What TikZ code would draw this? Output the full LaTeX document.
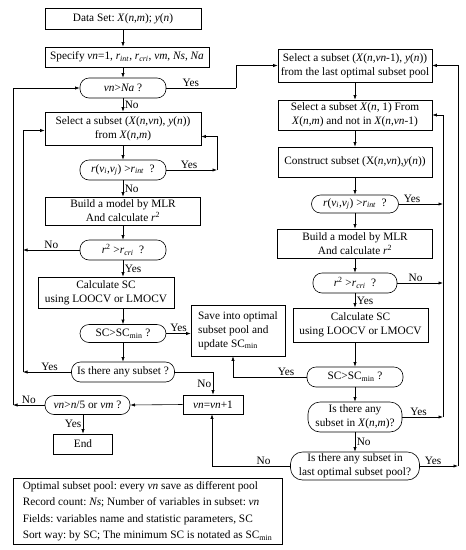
\documentclass[tikz,border=0pt]{standalone}
\usepackage{fontspec}
\setmainfont{Liberation Serif}
\usepackage{tikz}
\usetikzlibrary{arrows.meta,calc}
\frenchspacing
\newcommand{\flowfont}{\fontsize{11.3}{14}\selectfont}
\newcommand{\rInt}{\textit{r}\textsubscript{\textit{int}}}
\newcommand{\rCri}{\textit{r}\textsubscript{\textit{cri}}}
\newcommand{\SCmin}{SC\textsubscript{min}}
\newcommand{\Xnm}{\textit{X}(\textit{n},\textit{m})}

\begin{document}
\begin{tikzpicture}[
  x=1pt,
  y=-1pt,
  box/.style={draw, line width=0.6pt, align=center, inner sep=1pt, font=\flowfont},
  cond/.style={draw, rounded corners=9pt, line width=0.6pt, align=center, inner sep=1pt, font=\flowfont},
  arrow/.style={-{Latex[length=4.5pt,width=3.2pt]}, line width=0.6pt},
  line/.style={line width=0.6pt},
  lab/.style={font=\flowfont, inner sep=1.5pt}
]
\useasboundingbox (0,0) rectangle (466,550);

\node[box, minimum width=156pt, minimum height=21pt] (data) at (123,18.5) {Data Set: \Xnm; \textit{y}(\textit{n})};
\node[box, minimum width=164pt, minimum height=20pt] (spec) at (127,57) {Specify \textit{vn}=1, \rInt, \rCri, \textit{vm}, \textit{Ns}, \textit{Na}};
\node[cond, minimum width=86pt, minimum height=20pt] (c1) at (123,88) {\textit{vn}>\textit{Na} ?};
\node[box, minimum width=156pt, minimum height=33pt] (sel) at (123,128.5) {Select a subset (\textit{X}(\textit{n},\textit{vn}), \textit{y}(\textit{n}))\\from \Xnm};
\node[cond, minimum width=86pt, minimum height=20pt] (c2) at (123,170) {\textit{r}(\textit{v}\textsubscript{\textit{i}},\textit{v}\textsubscript{\textit{j}}) >\rInt\ \ ?};
\node[box, minimum width=155pt, minimum height=28pt] (build) at (123,211) {Build a model by MLR\\And calculate \textit{r}\textsuperscript{2}};
\node[cond, minimum width=86pt, minimum height=20pt] (c3) at (123,250) {\textit{r}\textsuperscript{2} >\rCri\ \ ?};
\node[box, minimum width=136pt, minimum height=31pt] (calc) at (106,292.5) {Calculate SC\\using LOOCV or LMOCV};
\node[cond, minimum width=86pt, minimum height=18pt] (c4) at (123,333.5) {SC>\SCmin\ ?};
\node[cond, minimum width=103pt, minimum height=20pt] (c5) at (123,372) {Is there any subset ?};
\node[cond, minimum width=85pt, minimum height=19pt] (c6) at (87.5,405) {\textit{vn}>\textit{n}/5 or \textit{vm} ?};
\node[box, minimum width=59pt, minimum height=20pt] (endb) at (83,444) {End};
\node[box, minimum width=60pt, minimum height=19pt] (inc) at (213,404.5) {\textit{vn}=\textit{vn}+1};
\node[box, minimum width=94pt, minimum height=51pt, align=left] (save) at (238,330.5) {Save into optimal\\subset pool and\\update \SCmin};

\node[box, minimum width=154pt, minimum height=33pt] (r1) at (355,65.5) {Select a subset (\textit{X}(\textit{n},\textit{vn}-1), \textit{y}(\textit{n}))\\from the last optimal subset pool};
\node[box, minimum width=154pt, minimum height=30pt] (r2) at (355,115) {Select a subset \textit{X}(\textit{n}, 1) From\\\Xnm{} and not in \textit{X}(\textit{n},\textit{vn}-1)};
\node[box, minimum width=154pt, minimum height=30pt] (r3) at (355,162) {Construct subset (X(\textit{n},\textit{vn}),\textit{y}(\textit{n}))};
\node[cond, minimum width=87pt, minimum height=18pt] (r4) at (355,204) {\textit{r}(\textit{v}\textsubscript{\textit{i}},\textit{v}\textsubscript{\textit{j}}) >\rInt\ \ ?};
\node[box, minimum width=155pt, minimum height=29pt] (r5) at (355,243.5) {Build a model by MLR\\And calculate \textit{r}\textsuperscript{2}};
\node[cond, minimum width=84pt, minimum height=20pt] (r6) at (355,283) {\textit{r}\textsuperscript{2} >\rCri\ \ ?};
\node[box, minimum width=135pt, minimum height=34pt] (r7) at (360.5,325) {Calculate SC\\using LOOCV or LMOCV};
\node[cond, minimum width=96pt, minimum height=20pt] (r8) at (355,377) {SC>\SCmin\ ?};
\node[cond, minimum width=94pt, minimum height=30pt, rounded corners=12pt] (r9) at (355,417) {Is there any\\subset in \Xnm?};
\node[cond, minimum width=129pt, minimum height=28pt, rounded corners=12pt] (r10) at (355,466) {Is there any subset in\\last optimal subset pool?};

\node[box, minimum width=269pt, minimum height=66pt, align=left, font=\fontsize{11.3}{16.5}\selectfont] (pool) at (147.5,511) {Optimal subset pool: every \textit{vn} save as different pool\\Record count: \textit{Ns}; Number of variables in subset: \textit{vn}\\Fields: variables name and statistic parameters, SC\\Sort way: by SC; The minimum SC is notated as \SCmin};

\coordinate (jL1) at (13,405);
\coordinate (jL2) at (23,372);
\coordinate (jS) at (217,170);
\coordinate (jR1) at (443,417);
\coordinate (jR2) at (458,466);

\draw[arrow] (data) -- (data |- spec.north);
\draw[arrow] (data |- spec.south) -- (c1);
\draw[arrow] (c1) -- node[lab, right]{No} (c1 |- sel.north);
\draw[arrow] (sel) -- (c2);
\draw[arrow] (c2) -- node[lab, right]{No} (c2 |- build.north);
\draw[arrow] (build) -- (c3);
\draw[arrow] (c3) -- node[lab, right]{Yes} (c3 |- calc.north);
\draw[arrow] (c4 |- calc.south) -- (c4);
\draw[arrow] (c4) -- (c4 |- c5.north);
\draw[arrow] (endb |- c6.south) -- node[lab, left]{Yes} (endb);

\draw[line] (c1.east) -- node[lab, pos=0.35, above]{Yes} ++(70,0) coordinate (jT);
\draw[arrow] (jT) |- (r1.west);
\draw[arrow] (c2.east) -- node[lab, pos=0.45, above]{Yes} (jS);
\draw[arrow] (jS) |- ([yshift=-8pt]sel.east);
\draw[arrow] (c3.west) -- node[lab, above]{No} (c3.west -| jL2);
\draw[arrow] (c5.west) -- node[lab, pos=0.45, above]{Yes} (jL2);
\draw[arrow] (jL2) |- ([yshift=-2pt]sel.west);
\draw[arrow] (c6.west) -- node[lab, above]{No} (jL1);
\draw[arrow] (jL1) |- (c1.west);
\draw[arrow] (c4.east) -- node[lab, above]{Yes} (c4.east -| save.west);
\draw[arrow] (c5.east) -| node[lab, pos=0.75, left]{No} (inc.north);
\draw[arrow] (inc.west) -- (c6.east);

\draw[arrow] (r1) -- (r1 |- r2.north);
\draw[arrow] (r2) -- (r3);
\draw[arrow] (r3) -- (r4);
\draw[arrow] (r4) -- (r5);
\draw[arrow] (r5) -- (r6);
\draw[arrow] (r6) -- node[lab, right]{Yes} (r6 |- r7.north);
\draw[arrow] (r8 |- r7.south) -- (r8);
\draw[arrow] (r8) -- (r9);
\draw[arrow] (r9) -- node[lab, right]{No} (r10);

\draw[arrow] (r4.east) -- node[lab, pos=0.3, above]{Yes} (r4.east -| jR1);
\draw[arrow] (r6.east) -- node[lab, pos=0.4, above]{No} (r6.east -| jR1);
\draw[arrow] (r9.east) -- node[lab, pos=0.4, above]{Yes} (jR1);
\draw[arrow] (jR1) |- (r2.east);
\draw[arrow] (r10.east) -- node[lab, pos=0.35, above]{Yes} (jR2);
\draw[arrow] (jR2) |- (r1.east);
\draw[arrow] (r8.west) -| node[lab, pos=0.14, above]{Yes} ([xshift=-5pt]save.south);
\draw[arrow] (r10.west) -| node[lab, pos=0.17, above]{No} ([xshift=-1pt]inc.south);
\end{tikzpicture}
\end{document}
